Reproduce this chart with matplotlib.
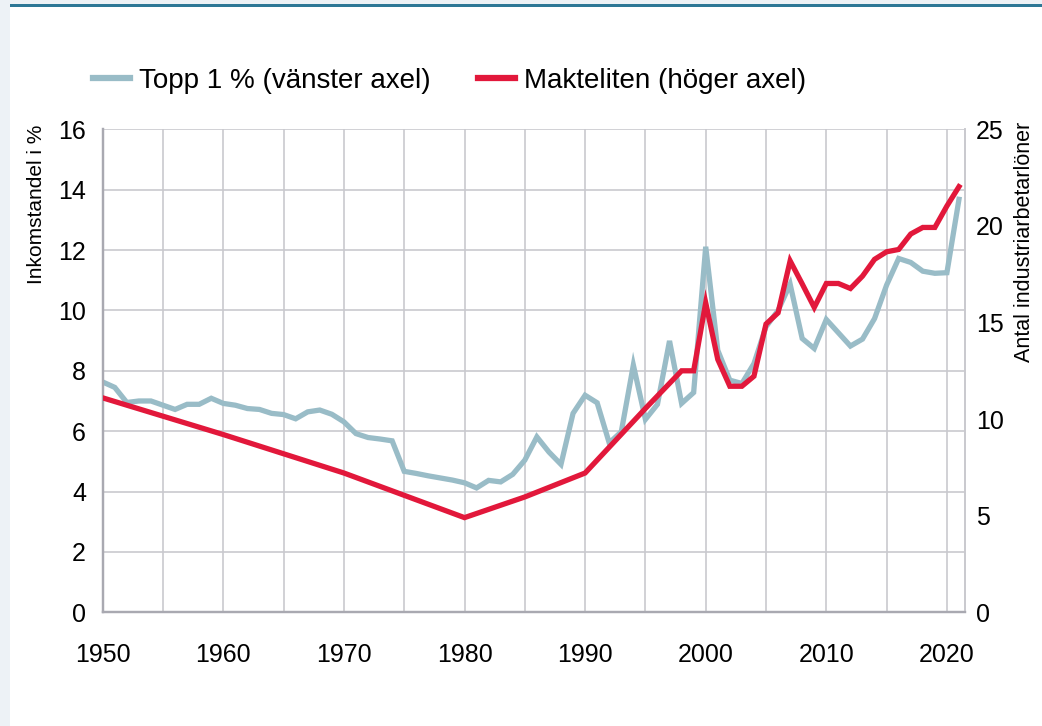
import matplotlib
matplotlib.use("Agg")
import matplotlib.pyplot as plt
from matplotlib.patches import Rectangle
from matplotlib.lines import Line2D
import numpy as np

plt.rcParams["font.family"] = ["Liberation Sans", "DejaVu Sans"]

# Topp 1 % (vänster axel), inkomstandel i %
top_years = list(range(1950, 2022))
top_share = [
    7.63, 7.45, 6.95, 7.00, 7.00, 6.86, 6.72, 6.89, 6.89, 7.09,
    6.92, 6.86, 6.75, 6.72, 6.59, 6.55, 6.41, 6.64, 6.70, 6.56,
    6.31, 5.92, 5.79, 5.74, 5.68, 4.67, 4.60, 4.52, 4.45, 4.38,
    4.29, 4.12, 4.37, 4.32, 4.57, 5.04, 5.81, 5.31, 4.90, 6.59,
    7.19, 6.94, 5.61, 5.98, 8.19, 6.39, 6.89, 8.99, 6.92, 7.28,
    12.11, 8.68, 7.69, 7.58, 8.24, 9.46, 10.00, 10.87, 9.07, 8.74,
    9.70, 9.26, 8.82, 9.05, 9.73, 10.84, 11.72, 11.59, 11.30, 11.23,
    11.25, 13.68,
]

# Makteliten (höger axel), antal industriarbetarlöner
elite_years = [1950, 1960, 1970, 1980, 1985, 1990, 1995, 1998, 1999,
               2000, 2001, 2002, 2003, 2004, 2005, 2006, 2007, 2008, 2009,
               2010, 2011, 2012, 2013, 2014, 2015, 2016, 2017, 2018, 2019,
               2020, 2021]
elite_wages = [11.1, 9.2, 7.21, 4.90, 5.97, 7.21, 10.55, 12.5, 12.5,
               16.02, 13.09, 11.7, 11.7, 12.22, 14.92, 15.5, 18.19, 17.0, 15.78,
               17.02, 17.02, 16.76, 17.4, 18.27, 18.66, 18.78, 19.58, 19.92, 19.92,
               21.03, 22.03]

GREY = "#99bcc7"
RED = "#e2183b"
GRID = "#c9c9ce"
SPINE = "#a9a9b1"

W, H = 1042, 726
fig = plt.figure(figsize=(W / 100, H / 100), dpi=100)
fig.patch.set_facecolor("white")

# ram: ljus kant till vänster och blå linje överst
fig.patches.append(Rectangle((0, 0), 10 / W, 1, transform=fig.transFigure,
                             facecolor="#edf2f6", edgecolor="none", zorder=0))
fig.patches.append(Rectangle((0, 1 - 4 / H), 1, 4 / H, transform=fig.transFigure,
                             facecolor="#edf2f6", edgecolor="none", zorder=0))
fig.patches.append(Rectangle((10 / W, 1 - 7 / H), 1, 3 / H, transform=fig.transFigure,
                             facecolor="#2e7896", edgecolor="none", zorder=1))

left, right = 102.7 / W, 965 / W
bottom, top = (H - 612.3) / H, (H - 129.3) / H
ax = fig.add_axes([left, bottom, right - left, top - bottom])
ax2 = ax.twinx()

ax.set_xlim(1950, 2021.5)
ax.set_ylim(0, 16)
ax2.set_ylim(0, 25)

ax.set_xticks(np.arange(1950, 2021, 10))
ax.set_xticks(np.arange(1955, 2021, 10), minor=True)
ax.set_yticks(np.arange(0, 17, 2))
ax2.set_yticks(np.arange(0, 26, 5))

ax.grid(True, which="both", axis="x", color=GRID, linewidth=1.2)
ax.grid(True, which="major", axis="y", color=GRID, linewidth=1.2)
ax.set_axisbelow(True)

ax.tick_params(axis="x", which="both", length=0, labelsize=18, pad=22)
ax.tick_params(axis="y", length=0, labelsize=18, pad=12)
ax2.tick_params(length=0, labelsize=18, pad=8)

for a in (ax, ax2):
    a.spines["top"].set_visible(False)
    a.spines["left"].set_color(SPINE)
    a.spines["left"].set_linewidth(1.6)
    a.spines["bottom"].set_color(SPINE)
    a.spines["bottom"].set_linewidth(1.6)
    a.spines["right"].set_color(GRID)
    a.spines["right"].set_linewidth(1.2)

ax.plot(top_years, top_share, color=GREY, linewidth=3.8, solid_joinstyle="miter", zorder=3)
ax2.plot(elite_years, elite_wages, color=RED, linewidth=3.8, solid_joinstyle="miter", zorder=4)

fig.text(37 / W, 1 - 125 / H, "Inkomstandel i %", rotation=90, ha="center", va="top",
         fontsize=15)
fig.text(1025 / W, 1 - 122 / H, "Antal industriarbetarlöner", rotation=90, ha="center",
         va="top", fontsize=15.5)

handles = [
    Line2D([], [], color=GREY, linewidth=4.5),
    Line2D([], [], color=RED, linewidth=4.5),
]
fig.legend(handles, ["Topp 1 % (vänster axel)", "Makteliten (höger axel)"],
           loc="center left", bbox_to_anchor=(93 / W, 1 - 81 / H), ncol=2,
           frameon=False, fontsize=20, handlelength=1.33, handletextpad=0.32,
           columnspacing=1.7, borderaxespad=0, borderpad=0)

fig.savefig("out.png", dpi=100, facecolor="white")
